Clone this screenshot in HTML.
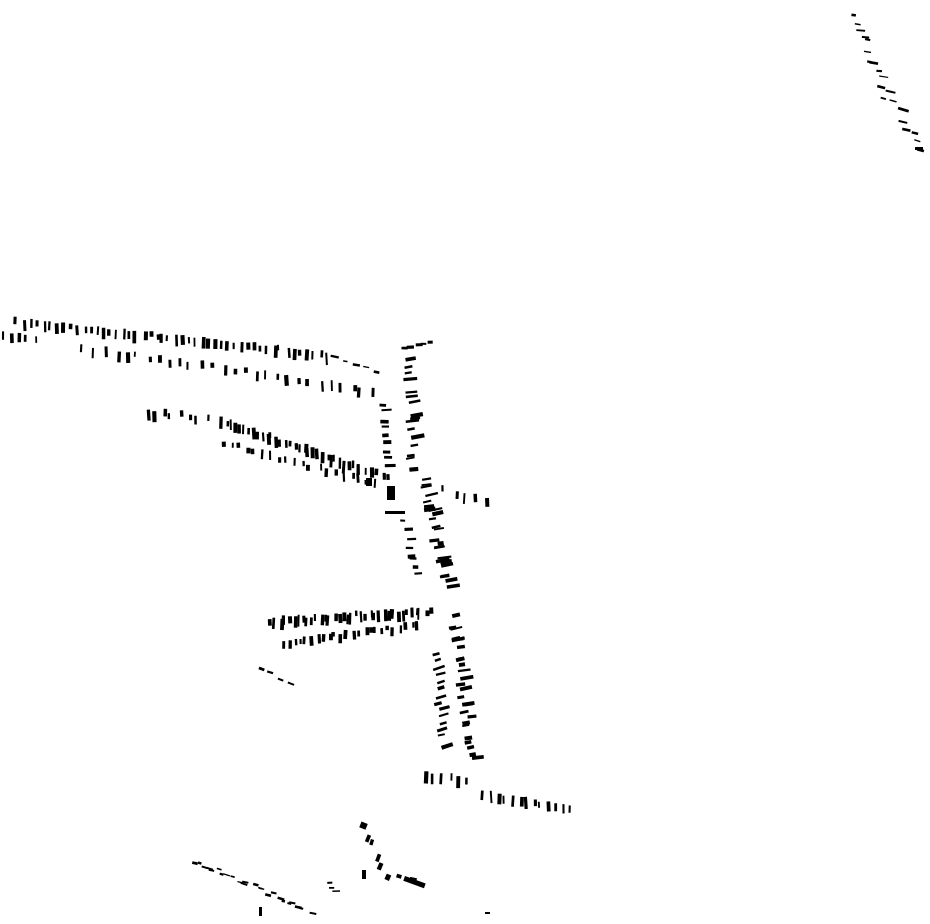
<!DOCTYPE html>
<html><head><meta charset="utf-8"><style>
html,body{margin:0;padding:0;background:#fff;width:930px;height:924px;overflow:hidden}
svg{display:block}
</style></head><body>
<svg id="s" width="930" height="924" xmlns="http://www.w3.org/2000/svg"><g id="g" fill="#000"></g></svg>
<script>
var seed=11;function r(){seed=(seed*16807)%2147483647;return (seed-1)/2147483646;}
var g=document.getElementById('g'),out='';
// [x1,y1,x2,y2,count,w,h,jitter,rotation]
var segs=[
 [852,15,878,80,10,7,2,8,8],[875,80,922,150,10,8,2,8,15],
 [15,318,330,352,48,3,9,3,0],[0,332,40,336,5,3,7,2,0],
 [80,345,380,388,28,3,8,5,0],[330,355,380,372,5,6,2,3,10],
 [145,410,210,415,8,3,8,6,0],[220,418,390,475,38,3,9,5,0],
 [220,440,380,482,20,3,7,5,0],
 [400,345,432,342,5,6,3,4,0],[405,360,410,470,16,10,3,8,-8],
 [380,400,385,470,9,8,3,3,0],
 [420,478,445,590,24,10,3,8,-10],[402,520,415,580,8,8,3,4,0],
 [440,485,495,500,5,3,8,4,0],
 [450,615,470,760,26,10,3,8,-10],[432,650,440,750,14,9,3,5,-15],
 [268,618,432,608,36,3,9,4,0],[280,640,420,622,24,3,7,4,0],
 [420,770,475,778,6,3,10,4,0],[480,790,575,808,13,3,9,3,0],
 [190,860,310,910,24,5,2,6,15],[360,820,390,880,6,5,6,5,20],[395,872,425,884,3,7,3,2,15],
 [325,880,335,895,3,6,2,2,0],[258,665,295,685,4,5,2,3,20]
];
segs.forEach(function(s){
 for(var i=0;i<s[4];i++){
  var t=(i+r()*0.5)/s[4],x=s[0]+(s[2]-s[0])*t+(r()-0.5)*s[7],y=s[1]+(s[3]-s[1])*t+(r()-0.5)*s[7];
  var w=s[5]*(0.6+r()*0.8),h=s[6]*(0.6+r()*0.8);
  out+='<rect x="'+x.toFixed(1)+'" y="'+y.toFixed(1)+'" width="'+w.toFixed(1)+'" height="'+h.toFixed(1)+'" transform="rotate('+(s[8]+(r()-0.5)*8)+' '+x.toFixed(1)+' '+y.toFixed(1)+')"/>';
 }
});
out+='<rect x="387" y="486" width="8" height="14"/><rect x="366" y="478" width="6" height="8"/><rect x="385" y="511" width="20" height="3"/><rect x="405" y="876" width="22" height="5" transform="rotate(20 405 876)"/><rect x="362" y="870" width="4" height="9"/><rect x="485" y="912" width="5" height="2"/><rect x="259" y="907" width="3" height="9"/><rect x="915" y="147" width="8" height="3"/>';
g.innerHTML=out;
</script>
</body></html>
